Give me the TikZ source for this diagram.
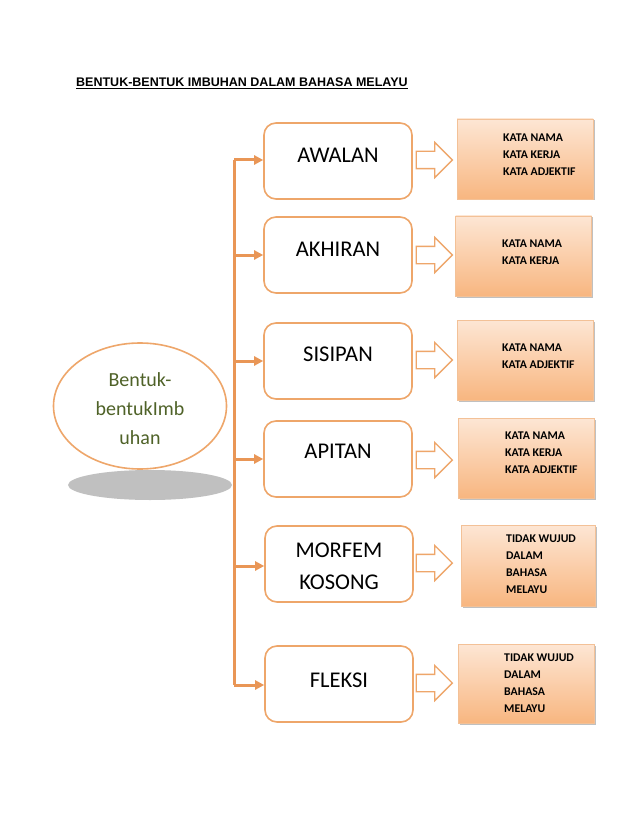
\documentclass[tikz,border=0pt]{standalone}
\usepackage{fontspec}
\setmainfont{Carlito}
\newfontfamily\judulfont{Liberation Sans}
\usetikzlibrary{arrows.meta, shapes.geometric, shapes.arrows, shadows}

\definecolor{garis}{RGB}{233,150,86}
\definecolor{tepi}{RGB}{238,166,106}
\definecolor{peachatas}{RGB}{253,230,212}
\definecolor{peachbawah}{RGB}{248,182,128}
\definecolor{hijautua}{RGB}{79,98,40}
\definecolor{bayang}{RGB}{192,192,192}

\tikzset{
  kotak/.style={draw=tepi, line width=1.6pt, rounded corners=12pt, fill=white,
    minimum width=148pt, minimum height=76pt, inner sep=0pt},
  tulisan/.style={font=\fontsize{22.5}{32}\selectfont, align=center, inner sep=0pt},
  kotakkata/.style={draw=tepi!70, line width=0.6pt, top color=peachatas, bottom color=peachbawah,
    minimum width=136pt, minimum height=80pt, inner sep=0pt,
    drop shadow={shadow xshift=1.5pt, shadow yshift=-1.5pt, opacity=0.35, fill=black!70}},
  tekskata/.style={font=\fontsize{11.8}{17.3}\selectfont\bfseries, align=left, anchor=north west, inner sep=0pt},
  panahblok/.style={single arrow, draw=tepi, line width=1.3pt, fill=white, inner sep=8pt,
    single arrow head extend=9pt, minimum height=36pt, outer sep=0pt},
  sambung/.style={draw=garis, line width=3pt, -{Triangle[length=9pt,width=9pt]}}
}

\begin{document}
\begin{tikzpicture}[x=1pt, y=-1pt]
    % Latar belakang
    \fill[white] (0,0) rectangle (638,826);
    \useasboundingbox (0,0) rectangle (638,826);

    % Tajuk
    \node[anchor=base west, inner sep=0pt, font=\judulfont\bfseries\fontsize{12.5}{15}\selectfont] (judul) at (76,87)
        {\underline{BENTUK-BENTUK IMBUHAN DALAM BAHASA MELAYU}};

    % Elips utama dan bayangnya
    \node[ellipse, fill=bayang, minimum width=164pt, minimum height=30pt, inner sep=0pt] (bayangelips) at (150,485) {};
    \node[ellipse, draw=tepi, line width=1.6pt, fill=white, minimum width=173pt, minimum height=126pt,
        inner sep=0pt] (imbuhan) at (140,406) {};
    \node[text=hijautua, align=center, inner sep=0pt, font=\fontsize{20}{29}\selectfont]
        at ([yshift=-3pt]imbuhan.center) {Bentuk-\\bentukImb\\uhan};

    % Kotak bentuk imbuhan
    \node[kotak] (awalan) at (338,161) {};
    \node[kotak] (akhiran) at (338,255) {};
    \node[kotak] (sisipan) at (338,361) {};
    \node[kotak] (apitan) at (338,459) {};
    \node[kotak] (morfem) at (339,564) {};
    \node[kotak] (fleksi) at (339,684) {};

    \node[tulisan] at ([yshift=6pt]awalan.center) {AWALAN};
    \node[tulisan] at ([yshift=6pt]akhiran.center) {AKHIRAN};
    \node[tulisan] at ([yshift=7pt]sisipan.center) {SISIPAN};
    \node[tulisan] at ([yshift=8pt]apitan.center) {APITAN};
    \node[tulisan] at ([yshift=-2pt]morfem.center) {MORFEM\\KOSONG};
    \node[tulisan] at ([yshift=4pt]fleksi.center) {FLEKSI};

    % Garis penyambung
    \coordinate (atas) at (234,160);
    \coordinate (bawah) at (234,685);
    \draw[draw=garis, line width=3pt] (atas) -- (bawah);

    \draw[sambung] (atas) -- (atas -| awalan.west);
    \draw[sambung] (akhiran.west -| atas) -- (akhiran.west);
    \draw[sambung] (sisipan.west -| atas) -- (sisipan.west);
    \draw[sambung] (apitan.west -| atas) -- (apitan.west);
    \draw[sambung] ([yshift=-2pt]morfem.west -| atas) -- ([yshift=-2pt]morfem.west);
    \draw[sambung] (bawah) -- (bawah -| fleksi.west);

    % Anak panah blok
    \node[panahblok] (p1) at (430,160) {};
    \node[panahblok] (p2) at (430,255) {};
    \node[panahblok] (p3) at (430,360) {};
    \node[panahblok] (p4) at (430,460) {};
    \node[panahblok] (p5) at (430,563) {};
    \node[panahblok] (p6) at (430,683) {};

    % Kotak jenis kata
    \node[kotakkata] (k1) at (525,159) {};
    \node[kotakkata] (k2) at (523.5,256) {};
    \node[kotakkata] (k3) at (525,360) {};
    \node[kotakkata] (k4) at (526,458) {};
    \node[kotakkata, minimum width=134pt, minimum height=81pt] (k5) at (528,565.5) {};
    \node[kotakkata, minimum height=79pt] (k6) at (526,683.5) {};

    \node[tekskata] at (503,133.2) {KATA NAMA\\KATA KERJA\\KATA ADJEKTIF};
    \node[tekskata] at (502,239.2) {KATA NAMA\\KATA KERJA};
    \node[tekskata] at (502,343.2) {KATA NAMA\\KATA ADJEKTIF};
    \node[tekskata] at (505,431.2) {KATA NAMA\\KATA KERJA\\KATA ADJEKTIF};
    \node[tekskata] at (506,534.2) {TIDAK WUJUD\\DALAM\\BAHASA\\MELAYU};
    \node[tekskata] at (504,653.2) {TIDAK WUJUD\\DALAM\\BAHASA\\MELAYU};

\end{tikzpicture}
\end{document}
